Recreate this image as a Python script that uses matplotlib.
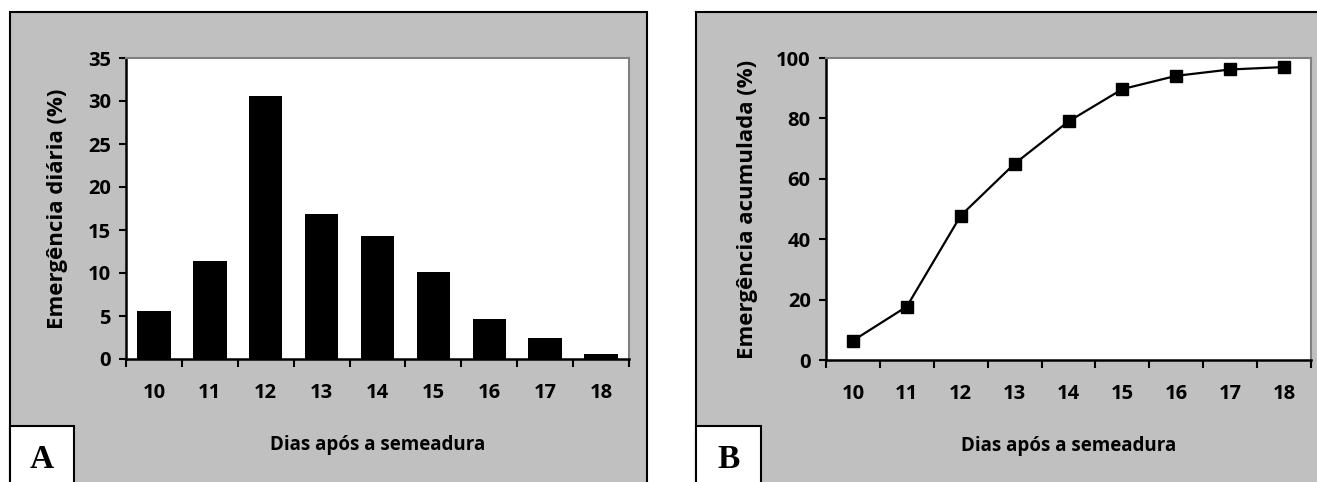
import matplotlib.pyplot as plt
from matplotlib.patches import Rectangle

# data
dias = ['10', '11', '12', '13', '14', '15', '16', '17', '18']
emerg_diaria = [5.6, 11.4, 30.6, 16.9, 14.3, 10.1, 4.6, 2.4, 0.6]
emerg_acum = [6.4, 17.7, 47.8, 65.0, 79.0, 89.7, 94.1, 96.2, 97.0]

W, H = 1317, 482
GRAY = '#c0c0c0'

plt.rcParams['font.family'] = ['Open Sans', 'DejaVu Sans']
plt.rcParams['font.weight'] = 'bold'


def px_rect(x0, y0, x1, y1):
    # pixel box (top-left origin) -> figure fraction
    return [x0 / W, 1 - y1 / H, (x1 - x0) / W, (y1 - y0) / H]


def panel(fig, x0, x1, letter, box_x1):
    r = px_rect(x0, 12, x1, H + 5)
    fig.patches.append(Rectangle((r[0], r[1]), r[2], r[3], transform=fig.transFigure,
                                 facecolor=GRAY, edgecolor='black', lw=1.5, zorder=0))
    b = px_rect(x0, 426, box_x1, H + 5)
    fig.patches.append(Rectangle((b[0], b[1]), b[2], b[3], transform=fig.transFigure,
                                 facecolor='white', edgecolor='black', lw=1.5, zorder=1))
    fig.text((x0 + box_x1) / 2 / W, 1 - 459 / H, letter, ha='center', va='center',
             family='Liberation Serif', fontsize=24, fontweight='bold')


def style_axes(ax, ylab_x):
    n = len(dias)
    ax.set_zorder(5)
    ax.set_xlim(-0.5, n - 0.5)
    ax.set_xticks([i - 0.5 for i in range(n + 1)])
    ax.set_xticklabels([])
    ax.set_xticks(range(n), minor=True)
    ax.set_xticklabels(dias, minor=True)
    ax.tick_params(axis='x', which='major', direction='out', length=6, width=1.5)
    ax.tick_params(axis='x', which='minor', length=0, pad=17, labelsize=14.5)
    ax.tick_params(axis='y', direction='out', length=5, width=1.5, pad=6, labelsize=14.5)
    for s in ['top', 'right']:
        ax.spines[s].set_color('#808080')
        ax.spines[s].set_linewidth(1.5)
    for s in ['left', 'bottom']:
        ax.spines[s].set_linewidth(1.8)
    ax.set_xlabel('Dias após a semeadura', fontsize=13.5, fontweight='bold')
    ax.xaxis.set_label_coords(0.5, -0.285)
    ax.xaxis.label.set_va('center')
    ax.yaxis.set_label_coords(ylab_x, 0.5)
    ax.yaxis.label.set_va('center')


fig = plt.figure(figsize=(W / 100, H / 100), dpi=100)
panel(fig, 10, 647, 'A', 74)
panel(fig, 696, W + 5, 'B', 761)

# A - emergencia diaria
ax1 = fig.add_axes(px_rect(126, 58, 629, 359))
ax1.bar(range(len(dias)), emerg_diaria, width=0.6, color='black')
ax1.set_ylim(0, 35)
ax1.set_yticks(range(0, 36, 5))
ax1.set_ylabel('Emergência diária (%)', fontsize=16, fontweight='bold')
style_axes(ax1, -0.137)

# B - emergencia acumulada
ax2 = fig.add_axes(px_rect(826, 58, 1311, 360))
ax2.plot(range(len(dias)), emerg_acum, color='black', lw=1.6, marker='s',
         markersize=9, clip_on=False)
ax2.set_ylim(0, 100)
ax2.set_yticks(range(0, 101, 20))
ax2.set_ylabel('Emergência acumulada (%)', fontsize=16, fontweight='bold')
style_axes(ax2, -0.161)

fig.savefig('out.png', dpi=100)
